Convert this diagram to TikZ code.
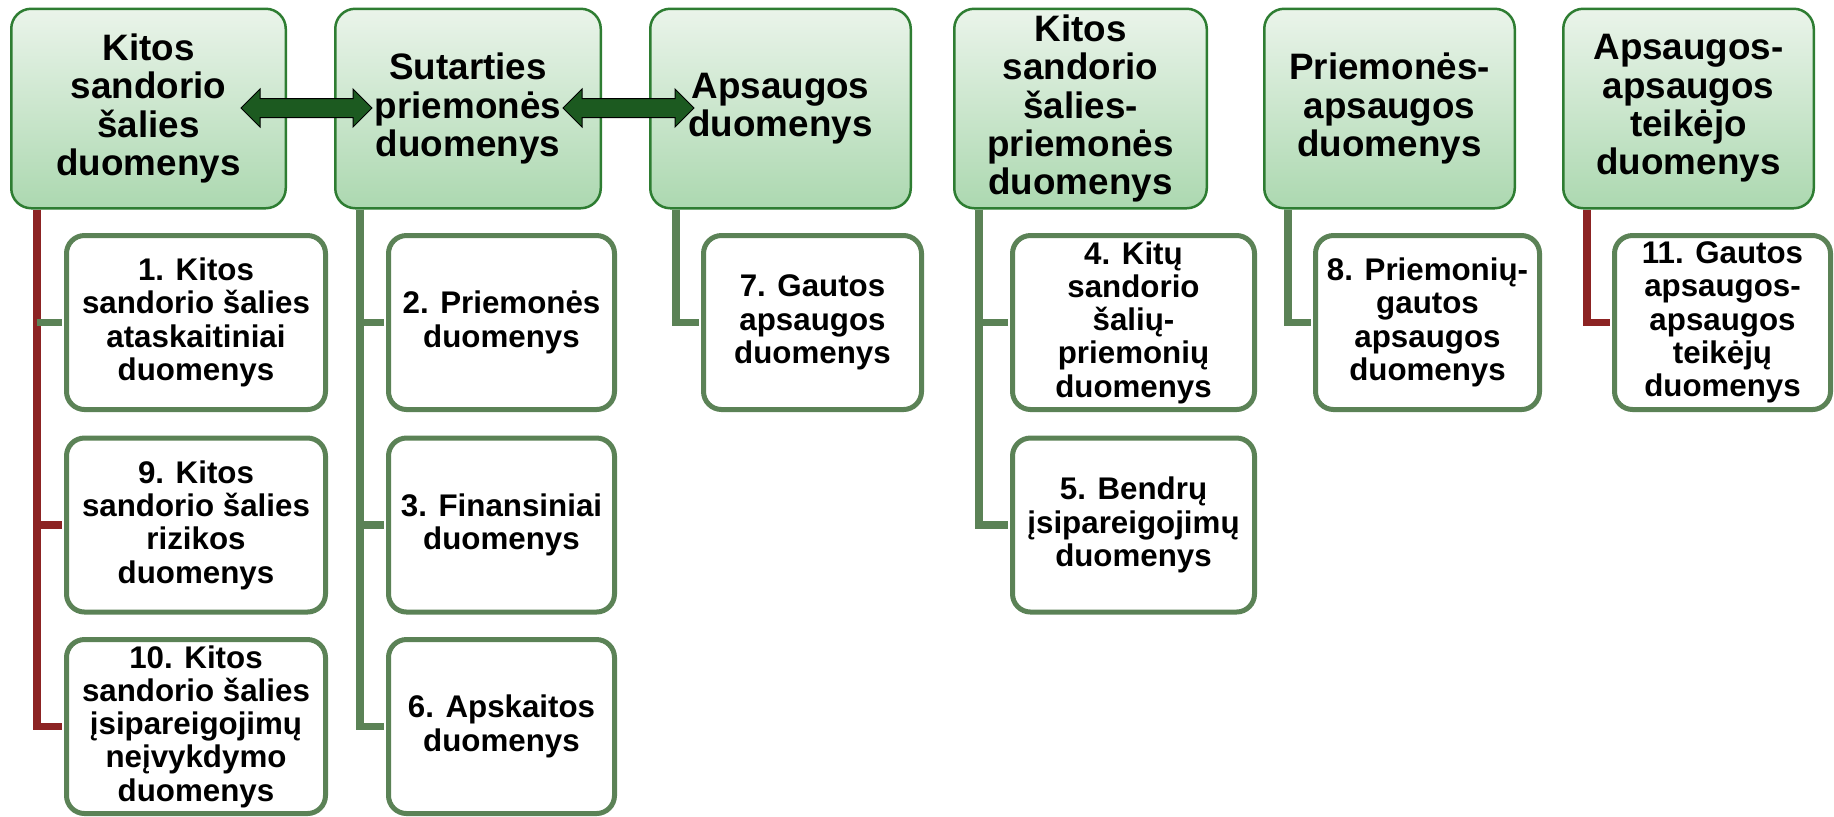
\documentclass[tikz,border=0pt]{standalone}
\usepackage{fontspec}
\setmainfont{Liberation Sans}
\usetikzlibrary{calc}
\definecolor{topA}{RGB}{234,244,234}
\definecolor{topB}{RGB}{172,216,176}
\definecolor{topBorder}{RGB}{46,125,50}
\definecolor{childBorder}{RGB}{91,130,86}
\definecolor{conRed}{RGB}{140,35,35}
\definecolor{arrowFill}{RGB}{28,90,32}
\begin{document}
\begin{tikzpicture}[x=0.5pt,y=-0.5pt,
  topbox/.style={draw=topBorder, line width=1.25pt, rounded corners=10pt,
    top color=topA, bottom color=topB, minimum height=99.75pt, align=center,
    inner sep=0pt, font=\fontsize{18.4pt}{19.15pt}\selectfont\bfseries},
  childbox/.style={draw=childBorder, fill=white, line width=2.5pt, rounded corners=9pt,
    minimum height=87pt, align=center, inner sep=0pt,
    font=\fontsize{15.65pt}{16.65pt}\selectfont\bfseries},
  congreen/.style={draw=childBorder, line width=3.6pt},
  conred/.style={draw=conRed, line width=3.6pt},
  blockarrow/.style={fill=arrowFill, draw=black, line width=0.5pt}
]
\useasboundingbox (0,0) rectangle (1834,816);

% top boxes
\node[topbox, minimum width=137.25pt] (B1) at (148.5,108.5) {Kitos\\sandorio\\šalies\\duomenys};
\node[topbox, minimum width=132.75pt] (B2) at (468,108.5) {Sutarties\\priemonės\\duomenys};
\node[topbox, minimum width=130.25pt] (B3) at (780.5,108.5) {Apsaugos\\duomenys};
\node[topbox, minimum width=126.25pt] (B4) at (1080.5,108.5) {Kitos\\sandorio\\šalies-\\priemonės\\duomenys};
\node[topbox, minimum width=125.25pt] (B5) at (1389.5,108.5) {Priemonės-\\apsaugos\\duomenys};
\node[topbox, minimum width=125.25pt] (B6) at (1688.5,108.5) {Apsaugos-\\apsaugos\\teikėjo\\duomenys};

% children
\node[childbox, minimum width=129.5pt] (C1) at (196,322.5) {1. Kitos\\sandorio šalies\\ataskaitiniai\\duomenys};
\node[childbox, minimum width=129.5pt] (C9) at (196,525) {9. Kitos\\sandorio šalies\\rizikos\\duomenys};
\node[childbox, minimum width=129.5pt] (C10) at (196,726.5) {10. Kitos\\sandorio šalies\\įsipareigojimų\\neįvykdymo\\duomenys};

\node[childbox, minimum width=113pt] (C2) at (501.5,322.5) {2. Priemonės\\duomenys};
\node[childbox, minimum width=113pt] (C3) at (501.5,525) {3. Finansiniai\\duomenys};
\node[childbox, minimum width=113pt] (C6) at (501.5,726.5) {6. Apskaitos\\duomenys};

\node[childbox, minimum width=109pt] (C7) at (812.5,322.5) {7. Gautos\\apsaugos\\duomenys};

\node[childbox, minimum width=121pt] (C4) at (1133.5,322.5) {4. Kitų\\sandorio\\šalių-\\priemonių\\duomenys};
\node[childbox, minimum width=121pt] (C5) at (1133.5,525) {5. Bendrų\\įsipareigojimų\\duomenys};

\node[childbox, minimum width=112pt] (C8) at (1427.5,322.5) {8. Priemonių-\\gautos\\apsaugos\\duomenys};

\node[childbox, minimum width=108pt] (C11) at (1722.5,322.5) {11. Gautos\\apsaugos-\\apsaugos\\teikėjų\\duomenys};

% connectors (start at the parent's bottom edge, end at the child's outer border)
\coordinate (L1) at ($(B1.south west)+(27,0)$);
\coordinate (L2) at ($(B2.south west)+(26,0)$);
\coordinate (L3) at ($(B3.south west)+(27,0)$);
\coordinate (L4) at ($(B4.south west)+(26,0)$);
\coordinate (L5) at ($(B5.south west)+(25,0)$);
\coordinate (L6) at ($(B6.south west)+(25,0)$);
\draw[conred] (L1) |- ($(C10.west)+(-2.5,0)$);
\draw[conred] (L1) |- ($(C9.west)+(-2.5,0)$);
\draw[congreen] (L1 |- C1.west) -- ($(C1.west)+(-2.5,0)$);
\draw[congreen] (L2) |- ($(C6.west)+(-2.5,0)$);
\draw[congreen] (L2) |- ($(C3.west)+(-2.5,0)$);
\draw[congreen] (L2) |- ($(C2.west)+(-2.5,0)$);
\draw[congreen] (L3) |- ($(C7.west)+(-2.5,0)$);
\draw[congreen] (L4) |- ($(C5.west)+(-2.5,0)$);
\draw[congreen] (L4) |- ($(C4.west)+(-2.5,0)$);
\draw[congreen] (L5) |- ($(C8.west)+(-2.5,0)$);
\draw[conred] (L6) |- ($(C11.west)+(-2.5,0)$);

% double arrows between top boxes
\coordinate (A1) at ($(B1.east)!0.5!(B2.west)+(-4,-0.5)$);
\coordinate (A2) at ($(B2.east)!0.5!(B3.west)+(3,-0.5)$);
\foreach \a in {A1,A2}{
  \draw[blockarrow, shift={(\a)}] (-65.5,0) -- (-46.5,-19) -- (-46.5,-9.5) -- (46.5,-9.5)
    -- (46.5,-19) -- (65.5,0) -- (46.5,19) -- (46.5,9.5) -- (-46.5,9.5) -- (-46.5,19) -- cycle;
}
\end{tikzpicture}
\end{document}
